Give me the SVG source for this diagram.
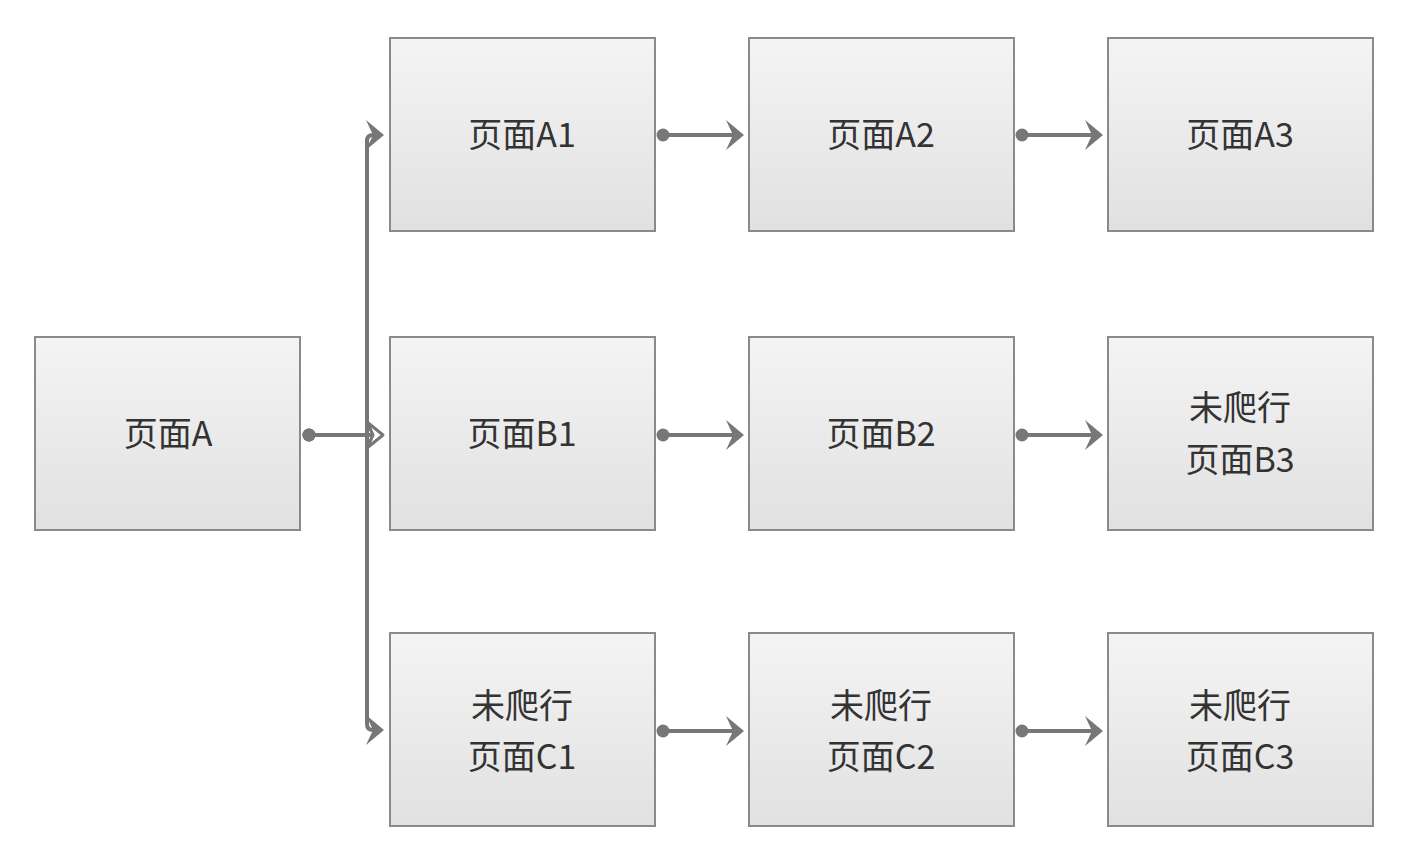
<svg xmlns="http://www.w3.org/2000/svg" width="1406" height="852" viewBox="0 0 1406 852">
<defs>
<linearGradient id="g" x1="0" y1="0" x2="0" y2="1">
<stop offset="0" stop-color="#f4f4f4"/>
<stop offset="1" stop-color="#e1e1e1"/>
</linearGradient>
<marker id="arr" viewBox="0 0 18 30" refX="7" refY="15" markerWidth="18" markerHeight="30" markerUnits="userSpaceOnUse" orient="auto">
<path d="M0,0 L18,15 L0,30 L7,15 Z" fill="#777"/>
</marker>
<marker id="arrh" viewBox="-2 -2 22 34" refX="7" refY="15" markerWidth="22" markerHeight="34" markerUnits="userSpaceOnUse" orient="auto">
<path d="M1,2 L17,15 L1,28 L7,15 Z" fill="#fff" stroke="#777" stroke-width="3" stroke-linejoin="round"/>
</marker>
<marker id="dot" viewBox="0 0 16 16" refX="8" refY="8" markerWidth="16" markerHeight="16" markerUnits="userSpaceOnUse">
<circle cx="8" cy="8" r="6.5" fill="#777"/>
</marker>
</defs>
<style>
.box{fill:url(#g);stroke:#8a8a8a;stroke-width:2}
.t{font-family:"Noto Sans CJK SC","Noto Sans",sans-serif;font-size:34px;fill:#333;text-anchor:middle;dominant-baseline:central}
.c{fill:none;stroke:#777;stroke-width:4;marker-start:url(#dot);marker-end:url(#arr)}
</style>
<rect width="1406" height="852" fill="#fff"/>
<g id="connectors">
<path class="c" d="M309,435 H367 V141 Q367,135 373,135"/>
<path class="c" d="M309,435 H367 V724 Q367,730 373,730"/>
<path class="c" style="marker-end:url(#arrh)" d="M309,435 H373"/>
<path class="c" d="M663,135 H733"/>
<path class="c" d="M1022,135 H1092"/>
<path class="c" d="M663,435 H733"/>
<path class="c" d="M1022,435 H1092"/>
<path class="c" d="M663,731 H733"/>
<path class="c" d="M1022,731 H1092"/>
</g>
<g id="nodeA"><rect class="box" x="35" y="337" width="265" height="193"/><text class="t" x="168" y="431">页面A</text></g>
<g id="nodeA1"><rect class="box" x="390" y="38" width="265" height="193"/><text class="t" x="522" y="132">页面A1</text></g>
<g id="nodeA2"><rect class="box" x="749" y="38" width="265" height="193"/><text class="t" x="881" y="132">页面A2</text></g>
<g id="nodeA3"><rect class="box" x="1108" y="38" width="265" height="193"/><text class="t" x="1240" y="132">页面A3</text></g>
<g id="nodeB1"><rect class="box" x="390" y="337" width="265" height="193"/><text class="t" x="522" y="431">页面B1</text></g>
<g id="nodeB2"><rect class="box" x="749" y="337" width="265" height="193"/><text class="t" x="881" y="431">页面B2</text></g>
<g id="nodeB3"><rect class="box" x="1108" y="337" width="265" height="193"/><text class="t" x="1240" y="405">未爬行</text><text class="t" x="1240" y="457">页面B3</text></g>
<g id="nodeC1"><rect class="box" x="390" y="633" width="265" height="193"/><text class="t" x="522" y="703">未爬行</text><text class="t" x="522" y="754">页面C1</text></g>
<g id="nodeC2"><rect class="box" x="749" y="633" width="265" height="193"/><text class="t" x="881" y="703">未爬行</text><text class="t" x="881" y="754">页面C2</text></g>
<g id="nodeC3"><rect class="box" x="1108" y="633" width="265" height="193"/><text class="t" x="1240" y="703">未爬行</text><text class="t" x="1240" y="754">页面C3</text></g>
</svg>
